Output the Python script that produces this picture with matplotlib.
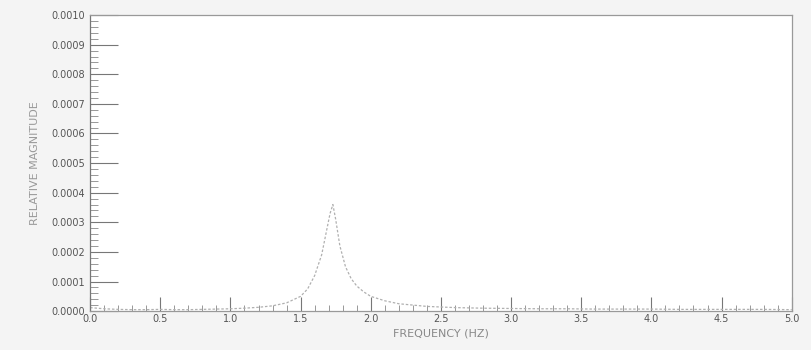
import matplotlib.pyplot as plt
from matplotlib.ticker import MultipleLocator

# spectrum (Hz, relative magnitude)
freq = [0.0, 0.1, 0.2, 0.3, 0.4, 0.5, 0.6, 0.7, 0.8, 0.9, 1.0, 1.1, 1.2, 1.3,
        1.4, 1.5, 1.55, 1.6, 1.65, 1.68, 1.71, 1.73, 1.75, 1.78, 1.82, 1.86,
        1.9, 1.95, 2.0, 2.1, 2.2, 2.4, 2.6, 2.8, 3.0, 3.2, 3.4, 3.6, 3.8,
        4.0, 4.2, 4.4, 4.6, 4.8, 5.0]
mag = [0.000012, 0.000008, 0.000006, 0.000005, 0.000005, 0.000006, 0.000005,
       0.000005, 0.000006, 0.000007, 0.000008, 0.000010, 0.000013, 0.000018,
       0.000028, 0.000050, 0.000075, 0.000120, 0.000190, 0.000260, 0.000330,
       0.000360, 0.000310, 0.000220, 0.000150, 0.000110, 0.000085, 0.000065,
       0.000050, 0.000035, 0.000025, 0.000016, 0.000012, 0.000010, 0.000009,
       0.000008, 0.000008, 0.000007, 0.000007, 0.000007, 0.000006, 0.000006,
       0.000006, 0.000006, 0.000005]

xticks = [0.0, 0.5, 1.0, 1.5, 2.0, 2.5, 3.0, 3.5, 4.0, 4.5, 5.0]
yticks = [i * 0.0001 for i in range(11)]

fig = plt.figure(figsize=(8.12, 3.5), dpi=100, facecolor='#f4f4f4')
ax = fig.add_axes([0.111, 0.111, 0.864, 0.846])
ax.set_facecolor('white')

ax.plot(freq, mag, color='#b0b0b0', lw=0.9, ls=(0, (2, 1.5)))

ax.set_xlim(0, 5)
ax.set_ylim(0, 0.001)
ax.set_xticks(xticks)
ax.set_xticklabels(['%.1f' % t for t in xticks])
ax.set_yticks(yticks)
ax.set_yticklabels(['%.4f' % t for t in yticks])
ax.xaxis.set_minor_locator(MultipleLocator(0.1))
ax.yaxis.set_minor_locator(MultipleLocator(0.00002))

ax.tick_params(axis='y', which='major', direction='in', length=20, width=0.8,
               color='#777777', labelsize=7, labelcolor='#555555')
ax.tick_params(axis='y', which='minor', direction='in', length=6, width=0.6,
               color='#888888')
ax.tick_params(axis='x', which='major', direction='in', length=10, width=0.8,
               color='#777777', labelsize=7, labelcolor='#555555', pad=2)
ax.tick_params(axis='x', which='minor', direction='in', length=4, width=0.6,
               color='#888888')
ax.tick_params(top=False, right=False)

for s in ax.spines.values():
    s.set_color('#999999')
    s.set_linewidth(0.9)
ax.spines['left'].set_color('#777777')

ax.set_xlabel('FREQUENCY (HZ)', fontsize=8, color='#888888', labelpad=3)
ax.set_ylabel('RELATIVE MAGNITUDE', fontsize=8, color='#999999', labelpad=8)

fig.savefig('out.png', dpi=100, facecolor=fig.get_facecolor())
